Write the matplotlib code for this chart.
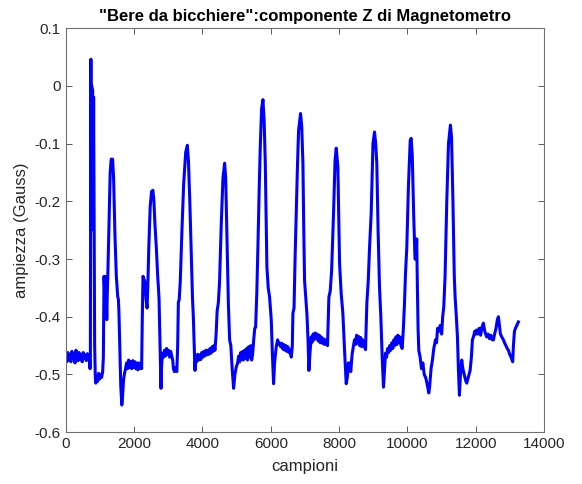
import matplotlib
matplotlib.use("Agg")
import matplotlib.pyplot as plt
from matplotlib.ticker import FuncFormatter

# campioni / ampiezza (Gauss) del magnetometro, asse Z, un gruppo di righe per sorso
campioni = [
    0, 30, 60, 90, 120, 150, 180, 210, 240, 270, 300, 330, 360, 390, 420, 450,
    480, 510, 540, 570, 600, 630, 660, 690,
    710, 720, 735, 745, 760, 770, 785, 800, 815, 830, 845, 865, 880, 900, 930,
    960, 990, 1020, 1050, 1080, 1100, 1120, 1140, 1160, 1180, 1200, 1215, 1230,
    1260, 1300, 1330, 1370, 1400, 1440, 1480, 1520, 1540, 1555, 1580, 1610,
    1640, 1660, 1690, 1720, 1750, 1780, 1810, 1840, 1870, 1900, 1930, 1960,
    1990, 2020, 2050, 2080, 2110, 2140, 2170, 2200, 2220,
    2240, 2260, 2290, 2320, 2350, 2380, 2400, 2430, 2470, 2510, 2550, 2580,
    2610, 2650, 2690, 2710, 2730, 2760, 2787, 2800, 2827, 2860, 2890, 2920,
    2950, 2980, 3010, 3040, 3070, 3100, 3130, 3150, 3180, 3210, 3250,
    3275, 3295, 3320, 3350, 3400, 3450, 3510, 3558, 3590, 3630, 3684, 3710,
    3733, 3760, 3781, 3800, 3830, 3860, 3890, 3920, 3950, 3980, 4010, 4040,
    4070, 4100, 4130, 4160, 4190, 4220, 4250, 4280, 4310, 4340, 4366,
    4400, 4430, 4465, 4500, 4550, 4600, 4649, 4680, 4720, 4760, 4795, 4830,
    4870, 4912, 4950, 4990, 5030, 5060, 5090, 5120, 5150, 5175, 5200, 5230,
    5260, 5290, 5320, 5350, 5380, 5410, 5440, 5468,
    5500, 5530, 5556, 5590, 5623, 5660, 5692, 5730, 5770, 5805, 5839, 5865,
    5886, 5925, 5965, 6014, 6050, 6082, 6110, 6160, 6200, 6230, 6257, 6290,
    6320, 6350, 6380, 6410, 6440, 6470, 6500, 6530, 6550, 6600, 6630,
    6647, 6680, 6710, 6745, 6780, 6813, 6871, 6905, 6940, 6965, 6988, 7020,
    7056, 7090, 7115, 7150, 7184, 7210, 7240, 7270, 7300, 7330, 7360, 7390,
    7420, 7450, 7480, 7510, 7540, 7570, 7600, 7623, 7660,
    7700, 7740, 7780, 7836, 7880, 7915, 7940, 7963, 7990, 8012, 8060, 8109,
    8160, 8207, 8240, 8270, 8304, 8340, 8380, 8420, 8450, 8480, 8510, 8540,
    8570, 8600, 8630, 8660, 8690, 8733, 8772,
    8811, 8850, 8890, 8938, 8990, 9035, 9070, 9102, 9140, 9181, 9220, 9260,
    9298, 9330, 9357, 9390, 9420, 9450, 9480, 9510, 9540, 9570, 9600, 9630,
    9660, 9690, 9720, 9750, 9780, 9810, 9845,
    9880, 9910, 9942, 9980, 10030, 10080, 10108, 10140, 10180, 10220, 10250,
    10270, 10290, 10310, 10331, 10370, 10410, 10450, 10490, 10530, 10570,
    10600, 10624, 10650, 10690, 10730, 10770, 10819, 10850, 10880, 10920,
    10960, 11000, 11030,
    11062, 11100, 11150, 11200, 11257, 11290, 11330, 11370, 11394, 11430,
    11462, 11490, 11520, 11550, 11588, 11620, 11660, 11700, 11734, 11780,
    11833, 11870, 11900, 11930, 11970, 12000, 12026, 12060, 12100, 12140,
    12180, 12222, 12260, 12290, 12319, 12360, 12400, 12440, 12480, 12515,
    12550, 12590, 12630, 12661, 12690, 12720, 12760, 12807, 12840, 12880,
    12920, 12953, 12990, 13030, 13060, 13079, 13100, 13130, 13160, 13200,
    13246,
]
ampiezza = [
    -0.468, -0.478, -0.462, -0.475, -0.465, -0.478, -0.460, -0.472, -0.466,
    -0.480, -0.458, -0.470, -0.476, -0.462, -0.474, -0.466, -0.478, -0.462,
    -0.472, -0.466, -0.476, -0.464, -0.472, -0.468,
    -0.490, -0.470, 0.046, -0.250, 0.000, -0.230, -0.007, -0.235, -0.020,
    -0.250, -0.450, -0.505, -0.515, -0.505, -0.512, -0.498, -0.508, -0.500,
    -0.505, -0.495, -0.470, -0.330, -0.360, -0.330, -0.350, -0.405, -0.360,
    -0.330, -0.250, -0.150, -0.127, -0.127, -0.160, -0.260, -0.330, -0.365,
    -0.370, -0.390, -0.450, -0.520, -0.553, -0.540, -0.510, -0.498, -0.490,
    -0.480, -0.490, -0.475, -0.488, -0.478, -0.490, -0.476, -0.488, -0.478,
    -0.490, -0.480, -0.492, -0.480, -0.490, -0.485, -0.490,
    -0.400, -0.330, -0.335, -0.340, -0.370, -0.385, -0.350, -0.280, -0.210,
    -0.183, -0.181, -0.200, -0.240, -0.280, -0.330, -0.348, -0.370, -0.450,
    -0.524, -0.490, -0.463, -0.470, -0.458, -0.468, -0.455, -0.465, -0.458,
    -0.470, -0.460, -0.468, -0.475, -0.490, -0.495, -0.488, -0.495,
    -0.450, -0.375, -0.370, -0.340, -0.250, -0.170, -0.115, -0.103, -0.130,
    -0.200, -0.319, -0.370, -0.400, -0.450, -0.493, -0.470, -0.478, -0.465,
    -0.475, -0.466, -0.474, -0.462, -0.470, -0.460, -0.468, -0.458, -0.466,
    -0.458, -0.465, -0.455, -0.463, -0.452, -0.460, -0.450, -0.458,
    -0.430, -0.390, -0.376, -0.340, -0.240, -0.160, -0.134, -0.160, -0.270,
    -0.380, -0.440, -0.450, -0.490, -0.524, -0.500, -0.487, -0.480, -0.468,
    -0.478, -0.462, -0.474, -0.460, -0.475, -0.458, -0.472, -0.455, -0.475,
    -0.452, -0.470, -0.450, -0.475, -0.465,
    -0.440, -0.420, -0.418, -0.360, -0.279, -0.180, -0.106, -0.040, -0.024,
    -0.060, -0.134, -0.240, -0.314, -0.350, -0.366, -0.406, -0.470, -0.516,
    -0.480, -0.452, -0.440, -0.448, -0.445, -0.452, -0.446, -0.456, -0.448,
    -0.458, -0.450, -0.460, -0.452, -0.462, -0.457, -0.470, -0.450,
    -0.394, -0.385, -0.300, -0.221, -0.140, -0.077, -0.048, -0.070, -0.134,
    -0.250, -0.337, -0.365, -0.394, -0.440, -0.493, -0.460, -0.435, -0.444,
    -0.430, -0.440, -0.428, -0.438, -0.430, -0.442, -0.432, -0.445, -0.435,
    -0.446, -0.438, -0.448, -0.440, -0.445, -0.450,
    -0.366, -0.355, -0.320, -0.221, -0.130, -0.108, -0.125, -0.140, -0.230,
    -0.307, -0.360, -0.394, -0.460, -0.516, -0.505, -0.480, -0.480, -0.495,
    -0.465, -0.450, -0.440, -0.448, -0.432, -0.446, -0.434, -0.450, -0.436,
    -0.452, -0.440, -0.450, -0.457,
    -0.376, -0.340, -0.280, -0.221, -0.100, -0.080, -0.100, -0.134, -0.250,
    -0.348, -0.400, -0.470, -0.522, -0.490, -0.463, -0.470, -0.455, -0.462,
    -0.450, -0.458, -0.445, -0.455, -0.440, -0.450, -0.435, -0.448, -0.432,
    -0.445, -0.435, -0.450, -0.455,
    -0.420, -0.380, -0.325, -0.280, -0.170, -0.095, -0.091, -0.120, -0.220,
    -0.300, -0.300, -0.265, -0.350, -0.420, -0.458, -0.470, -0.490, -0.480,
    -0.500, -0.505, -0.515, -0.525, -0.532, -0.520, -0.490, -0.475, -0.455,
    -0.440, -0.445, -0.420, -0.425, -0.415, -0.430, -0.400,
    -0.383, -0.330, -0.200, -0.100, -0.068, -0.090, -0.200, -0.330, -0.366,
    -0.400, -0.435, -0.490, -0.536, -0.500, -0.475, -0.490, -0.500, -0.510,
    -0.515, -0.505, -0.493, -0.470, -0.440, -0.435, -0.425, -0.430, -0.423,
    -0.430, -0.420, -0.432, -0.418, -0.411, -0.425, -0.430, -0.435, -0.430,
    -0.438, -0.432, -0.440, -0.440, -0.430, -0.420, -0.405, -0.400, -0.415,
    -0.430, -0.435, -0.440, -0.445, -0.450, -0.455, -0.458, -0.465, -0.470,
    -0.475, -0.478, -0.450, -0.425, -0.420, -0.415, -0.409,
]
assert len(campioni) == len(ampiezza)

x_ticks = [0, 2000, 4000, 6000, 8000, 10000, 12000, 14000]
y_ticks = [0.1, 0, -0.1, -0.2, -0.3, -0.4, -0.5, -0.6]

plt.rcParams["font.family"] = ["Liberation Sans", "DejaVu Sans"]
plt.rcParams["axes.unicode_minus"] = False

fig = plt.figure(figsize=(5.82, 4.84), dpi=100)
ax = fig.add_axes([0.113, 0.107, 0.822, 0.835])

ax.plot(campioni, ampiezza, color="#0000ff", linewidth=2.2)

ax.set_xlim(0, 14000)
ax.set_ylim(-0.6, 0.1)
ax.set_xticks(x_ticks)
ax.set_yticks(y_ticks)
ax.yaxis.set_major_formatter(FuncFormatter(lambda v, p: "%g" % round(v, 2)))

grigio = "#262626"
for s in ax.spines.values():
    s.set_color("#707070")
    s.set_linewidth(0.8)
ax.tick_params(direction="in", length=4, width=0.6, color="#404040",
               labelsize=11, labelcolor=grigio, top=True, right=True)

ax.set_xlabel("campioni", fontsize=12, color=grigio, labelpad=6)
ax.set_ylabel("ampiezza (Gauss)", fontsize=12, color=grigio, labelpad=4)
ax.set_title('"Bere da bicchiere":componente Z di Magnetometro',
             fontsize=12, fontweight="bold", color="black", pad=5)

fig.savefig("out.png", dpi=100, facecolor="white")
